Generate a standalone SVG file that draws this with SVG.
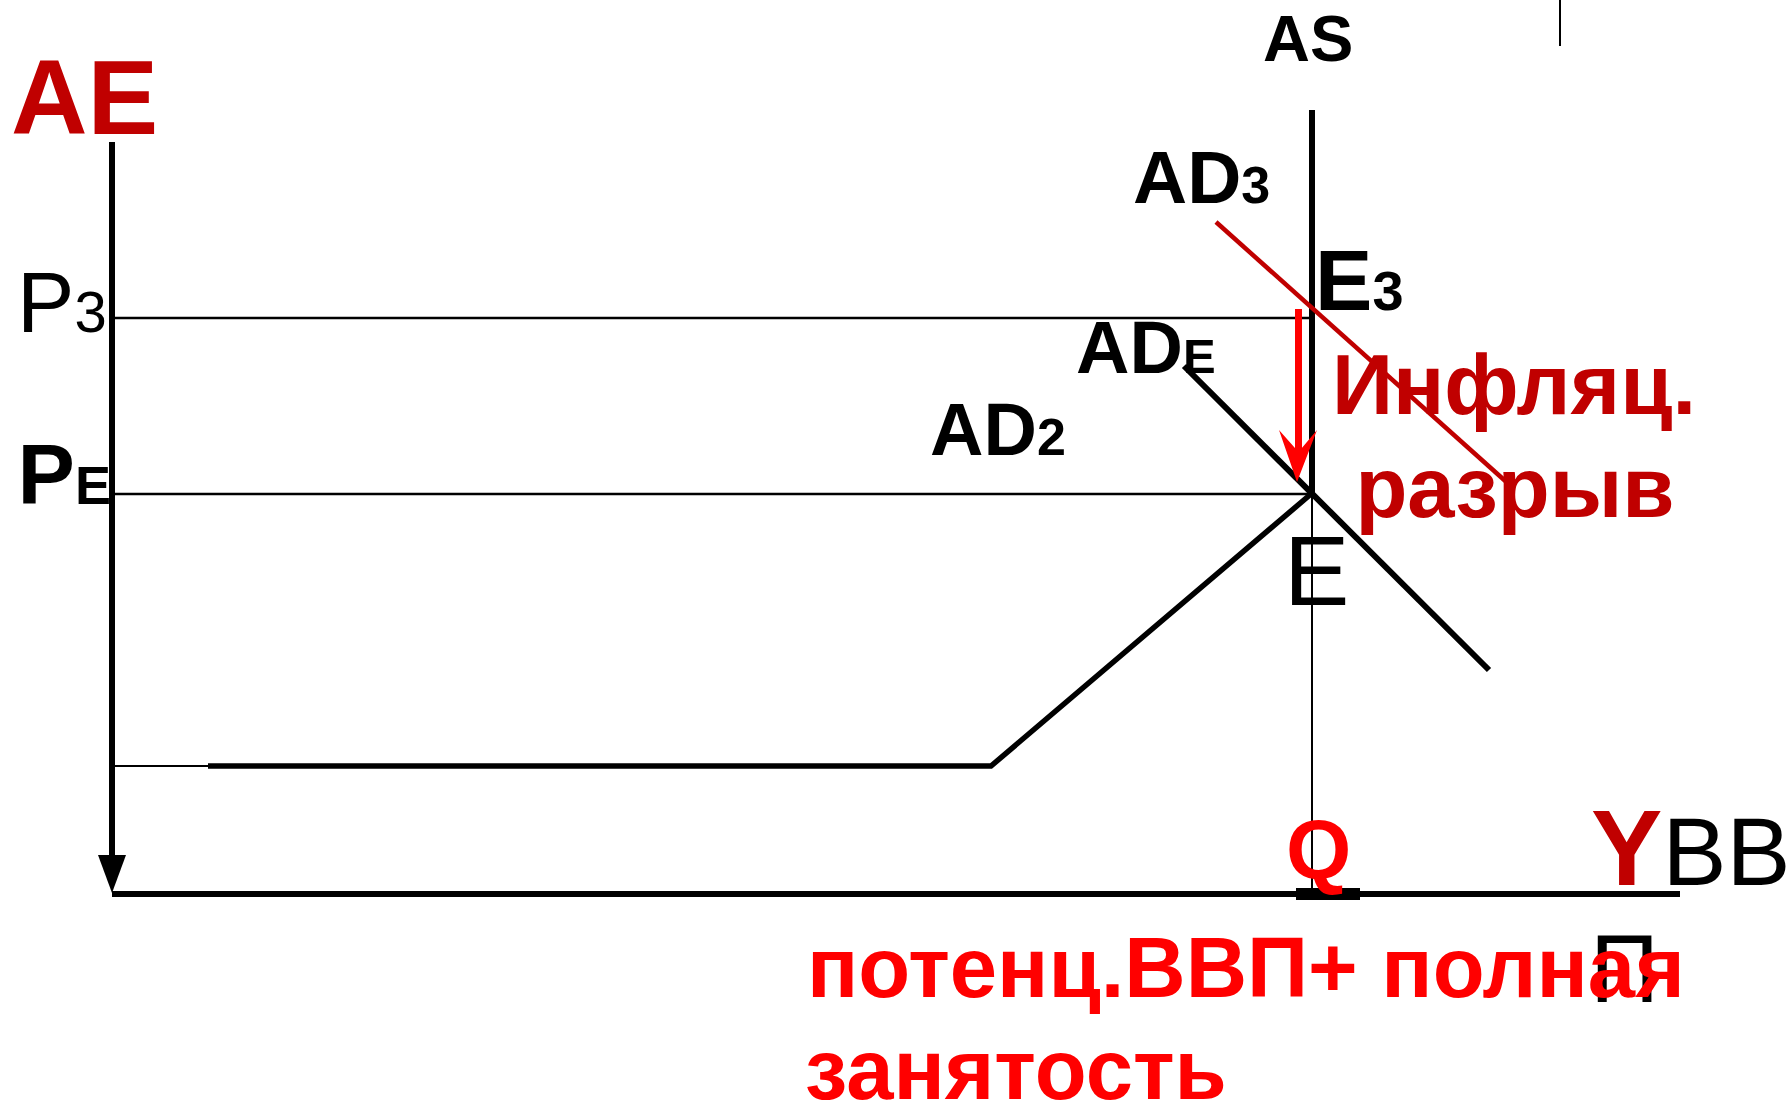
<svg xmlns="http://www.w3.org/2000/svg" width="1791" height="1104" viewBox="0 0 1791 1104">
<style>
text{font-family:"Liberation Sans",Arial,sans-serif}
.b{font-weight:bold}
.dr{fill:#C00000}
.r{fill:#FF0000}
.k{fill:#000}
.ln{stroke:#000;fill:none}
</style>
<rect width="1791" height="1104" fill="#fff"/>
<g id="connectors">
  <g id="y-axis">
    <line class="ln" x1="112" y1="142" x2="112" y2="858" stroke-width="6"/>
    <polygon points="98,855 126,855 112,893" fill="#000"/>
  </g>
  <line id="x-axis" class="ln" x1="112" y1="894" x2="1680" y2="894" stroke-width="6"/>
  <rect id="q-mark" x="1296" y="888" width="64" height="12" fill="#000"/>
  <line id="top-tick" class="ln" x1="1560" y1="0" x2="1560" y2="46" stroke-width="2"/>
  <line id="p3-line" class="ln" x1="112" y1="318" x2="1312" y2="318" stroke-width="2.5"/>
  <line id="pe-line" class="ln" x1="112" y1="494" x2="1312" y2="494" stroke-width="2.5"/>
  <line id="as-line" class="ln" x1="1312" y1="110" x2="1312" y2="494" stroke-width="6"/>
  <line id="q-line" class="ln" x1="1312" y1="494" x2="1312" y2="894" stroke-width="2"/>
  <line id="ad2-thin" class="ln" x1="112" y1="766" x2="208" y2="766" stroke-width="2"/>
  <polyline id="ad2-curve" class="ln" points="208,766 991,766 1311,494" stroke-width="5.5"/>
  <line id="ade-line" class="ln" x1="1184" y1="366" x2="1489" y2="670" stroke-width="6"/>
  <line id="ad3-line" x1="1216" y1="222" x2="1512" y2="487" stroke="#C00000" stroke-width="4.5"/>
  <g id="gap-arrow">
    <line x1="1298.5" y1="309" x2="1298.5" y2="452" stroke="#FF0000" stroke-width="7"/>
    <polygon points="1279,430 1298.5,452 1317,430 1297,482" fill="#FF0000"/>
  </g>
</g>
<g id="label-AE"><text class="b dr" x="11" y="134" font-size="106">AE</text></g>
<g id="label-AS"><text class="b k" x="1263" y="61" font-size="65">AS</text></g>
<g id="label-AD3"><text class="b k" x="1133" y="203" font-size="75">AD<tspan font-size="52">3</tspan></text></g>
<g id="label-ADE"><text class="b k" x="1076" y="373" font-size="74">AD<tspan font-size="49">E</tspan></text></g>
<g id="label-AD2"><text class="b k" x="930" y="455" font-size="74">AD<tspan font-size="52">2</tspan></text></g>
<g id="label-E3"><text class="b k" x="1315" y="310" font-size="86">E<tspan font-size="56">3</tspan></text></g>
<g id="label-P3"><text class="k" x="17" y="332" font-size="86">P<tspan font-size="58">3</tspan></text></g>
<g id="label-PE"><text class="b k" x="17.5" y="504" font-size="86">P<tspan font-size="54">E</tspan></text></g>
<g id="label-E"><text class="k" x="1284" y="605" font-size="98">E</text></g>
<g id="label-gap">
  <text class="b dr" x="1514" y="414" font-size="85" text-anchor="middle">Инфляц.</text>
  <text class="b dr" x="1515" y="517" font-size="85" text-anchor="middle">разрыв</text>
</g>
<g id="label-Q"><text class="b r" x="1286" y="879" font-size="84">Q</text></g>
<g id="label-Y">
  <text class="k" x="1591" y="885" font-size="96"><tspan class="b dr" font-size="107">Y</tspan>ВВ</text>
  <text class="k" x="1590" y="1002" font-size="96">П</text>
</g>
<g id="label-potential">
  <text class="b r" x="807" y="997" font-size="85">потенц.ВВП+ полная</text>
  <text class="b r" x="805" y="1099" font-size="85">занятость</text>
</g>
</svg>
